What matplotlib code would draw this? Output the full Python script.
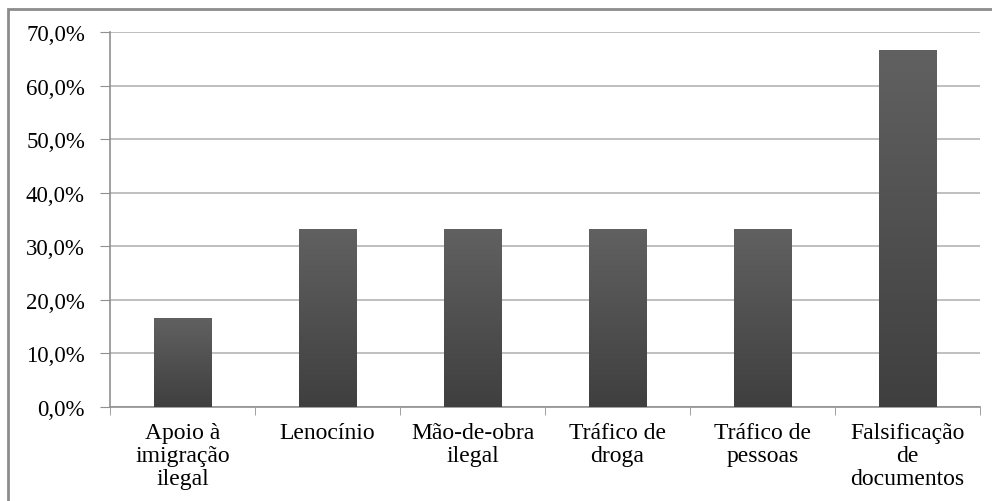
import numpy as np
import matplotlib
matplotlib.use("Agg")
import matplotlib.pyplot as plt
from matplotlib.patches import Rectangle

categories = [
    "Apoio à\nimigração\nilegal",
    "Lenocínio",
    "Mão-de-obra\nilegal",
    "Tráfico de\ndroga",
    "Tráfico de\npessoas",
    "Falsificação\nde\ndocumentos",
]
values = [16.7, 33.3, 33.3, 33.3, 33.3, 66.7]
yticks = [0, 10, 20, 30, 40, 50, 60, 70]

plt.rcParams["font.family"] = ["Liberation Serif", "DejaVu Serif"]

W, H = 992, 502
fig = plt.figure(figsize=(W / 100, H / 100), dpi=100)
ax = fig.add_axes([110 / W, 1 - 408 / H, 870 / W, 375 / H])

# outer frame
fig.patches.append(Rectangle((8 / W, -0.05), 1.0, 1 - 10 / H + 0.05,
                             transform=fig.transFigure, fill=False,
                             edgecolor="#8c8c8c", linewidth=2))

x = np.arange(len(categories))
width = 0.4
grad = np.linspace(0, 1, 256).reshape(-1, 1)
cmap = matplotlib.colors.LinearSegmentedColormap.from_list("g", ["#3f3f3f", "#616161"])

bars = ax.bar(x, values, width=width, color="#505050", zorder=2)
for b in bars:
    im = ax.imshow(grad, cmap=cmap, origin="lower", aspect="auto",
                   extent=[b.get_x(), b.get_x() + b.get_width(), 0, b.get_height()],
                   zorder=3)
    im.set_clip_path(b)

ax.set_xlim(-0.5, len(categories) - 0.5)
ax.set_ylim(0, 70)
ax.set_yticks(yticks)
ax.set_yticklabels([f"{v:.1f}%".replace(".", ",") for v in yticks], fontsize=16.5)
ax.yaxis.grid(True, color="#b4b4b4", linewidth=1.2, zorder=0)
ax.set_axisbelow(True)

ax.set_xticks(x)
ax.set_xticklabels(categories, fontsize=17, linespacing=1.12)
ax.set_xticks(np.arange(-0.5, len(categories)), minor=True)
ax.tick_params(axis="x", which="major", length=0, pad=11)
ax.tick_params(axis="x", which="minor", length=6, color="#909090")
ax.tick_params(axis="y", length=7, color="#909090", pad=11)

for s in ["top", "right"]:
    ax.spines[s].set_visible(False)
for s in ["left", "bottom"]:
    ax.spines[s].set_color("#909090")
    ax.spines[s].set_linewidth(1.2)

fig.savefig("out.png", dpi=100)
